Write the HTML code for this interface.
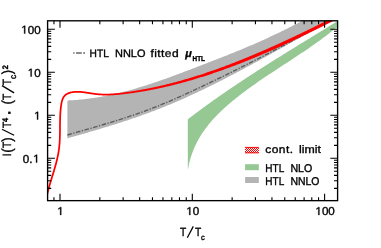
<!DOCTYPE html><html><head><meta charset="utf-8"><style>html,body{margin:0;padding:0;background:#fff}svg{display:block;filter:opacity(0.999)}text{font-family:"Liberation Sans",sans-serif;text-rendering:geometricPrecision;fill:#000;stroke:#000;stroke-width:0.36}</style></head><body>
<svg width="381" height="248" viewBox="0 0 381 248">
<rect width="381" height="248" fill="#fff"/>
<defs><pattern id="h" width="2" height="2" x="245" y="147" patternUnits="userSpaceOnUse"><rect width="2" height="2" fill="#fff"/><rect width="1" height="1" fill="#f00"/><rect x="1" y="1" width="1" height="1" fill="#f00"/></pattern>
<clipPath id="c"><rect x="47.6" y="20.8" width="290.0" height="179.85"/></clipPath></defs>
<g clip-path="url(#c)">
<polygon points="187.80,119.80 188.48,118.80 189.37,118.11 190.26,117.43 191.16,116.75 192.05,116.07 192.95,115.39 193.85,114.71 194.74,114.03 195.64,113.36 196.54,112.68 197.44,112.01 198.34,111.34 199.25,110.67 200.15,110.00 201.06,109.33 201.96,108.66 202.87,108.00 203.78,107.34 204.68,106.67 205.59,106.01 206.50,105.35 207.42,104.69 208.33,104.03 209.24,103.38 210.16,102.72 211.07,102.07 211.99,101.41 212.90,100.76 213.82,100.11 214.74,99.46 215.66,98.81 216.58,98.16 217.50,97.52 218.42,96.87 219.34,96.22 220.27,95.58 221.19,94.94 222.12,94.30 223.04,93.66 223.97,93.02 224.90,92.38 225.82,91.74 226.75,91.10 227.68,90.47 228.61,89.83 229.54,89.20 230.47,88.57 231.41,87.94 232.34,87.31 233.27,86.68 234.21,86.05 235.14,85.42 236.08,84.79 237.02,84.17 237.95,83.54 238.89,82.92 239.83,82.29 240.77,81.67 241.71,81.05 242.65,80.43 243.59,79.81 244.53,79.19 245.47,78.57 246.41,77.95 247.36,77.33 248.30,76.71 249.24,76.10 250.19,75.48 251.13,74.87 252.08,74.26 253.02,73.64 253.97,73.03 254.92,72.42 255.87,71.81 256.81,71.20 257.76,70.59 258.71,69.98 259.66,69.37 260.61,68.76 261.56,68.16 262.51,67.55 263.46,66.95 264.41,66.34 265.37,65.74 266.32,65.13 267.27,64.53 268.22,63.92 269.18,63.32 270.13,62.72 271.08,62.12 272.04,61.52 272.99,60.92 273.95,60.32 274.90,59.72 275.86,59.12 276.82,58.52 277.77,57.92 278.73,57.33 279.69,56.73 280.64,56.13 281.60,55.54 282.56,54.94 283.51,54.34 284.47,53.75 285.43,53.15 286.39,52.56 287.35,51.97 288.31,51.37 289.27,50.78 290.23,50.19 291.18,49.59 292.14,49.00 293.10,48.41 294.06,47.82 295.02,47.23 295.98,46.63 296.94,46.04 297.90,45.45 298.86,44.86 299.82,44.27 300.79,43.68 301.75,43.09 302.71,42.50 303.67,41.91 304.63,41.32 305.59,40.73 306.55,40.14 307.51,39.55 308.47,38.97 309.43,38.38 310.39,37.79 311.35,37.20 312.31,36.61 313.28,36.02 314.24,35.44 315.20,34.85 316.16,34.26 317.12,33.67 318.08,33.08 319.04,32.49 320.00,31.91 320.96,31.32 321.92,30.73 322.88,30.14 323.84,29.55 324.80,28.97 325.76,28.38 326.72,27.79 327.68,27.20 328.64,26.61 329.60,26.03 330.56,25.44 331.51,24.85 332.47,24.26 333.43,23.67 334.39,23.08 335.35,22.49 336.30,21.90 337.50,21.70 337.50,27.10 336.24,27.68 335.21,28.53 334.17,29.37 333.13,30.21 332.09,31.05 331.05,31.87 330.00,32.70 328.95,33.52 327.90,34.33 326.84,35.15 325.78,35.95 324.72,36.76 323.65,37.55 322.58,38.35 321.51,39.14 320.44,39.93 319.36,40.71 318.29,41.49 317.20,42.27 316.12,43.04 315.04,43.82 313.95,44.58 312.86,45.35 311.77,46.11 310.67,46.87 309.58,47.63 308.48,48.38 307.38,49.14 306.28,49.89 305.18,50.64 304.08,51.38 302.97,52.13 301.87,52.87 300.76,53.61 299.65,54.35 298.54,55.09 297.43,55.82 296.32,56.56 295.20,57.29 294.09,58.03 292.98,58.76 291.86,59.49 290.75,60.22 289.63,60.95 288.51,61.68 287.40,62.41 286.28,63.14 285.16,63.87 284.04,64.60 282.93,65.33 281.81,66.06 280.69,66.79 279.57,67.52 278.46,68.25 277.34,68.98 276.22,69.71 275.11,70.44 273.99,71.17 272.88,71.91 271.76,72.64 270.65,73.38 269.54,74.12 268.42,74.86 267.31,75.60 266.20,76.35 265.09,77.09 263.99,77.84 262.88,78.59 261.78,79.34 260.67,80.09 259.57,80.85 258.47,81.61 257.37,82.37 256.27,83.13 255.18,83.90 254.08,84.67 252.99,85.44 251.90,86.21 250.82,86.99 249.73,87.77 248.65,88.56 247.57,89.35 246.49,90.14 245.41,90.94 244.34,91.74 243.27,92.54 242.20,93.35 241.13,94.16 240.07,94.98 239.01,95.80 237.95,96.63 236.90,97.46 235.85,98.29 234.81,99.13 233.76,99.98 232.73,100.83 231.70,101.69 230.67,102.55 229.65,103.41 228.63,104.29 227.62,105.16 226.62,106.05 225.62,106.94 224.63,107.83 223.64,108.73 222.66,109.64 221.69,110.56 220.73,111.48 219.78,112.41 218.83,113.34 217.89,114.28 216.96,115.23 216.04,116.18 215.13,117.15 214.23,118.12 213.34,119.09 212.46,120.08 211.59,121.07 210.73,122.07 209.88,123.08 209.04,124.10 208.21,125.12 207.39,126.15 206.59,127.19 205.80,128.24 205.02,129.30 204.25,130.37 203.50,131.44 202.76,132.53 202.03,133.62 201.32,134.72 200.62,135.83 199.94,136.95 199.26,138.08 198.61,139.22 197.97,140.37 197.34,141.53 196.73,142.70 196.14,143.88 195.56,145.07 195.00,146.27 194.46,147.48 193.93,148.71 193.42,149.94 192.93,151.18 192.45,152.43 192.00,153.70 191.56,154.97 191.14,156.26 190.73,157.56 190.35,158.87 189.99,160.19 189.64,161.52 189.32,162.87 189.02,164.22 188.73,165.59 188.47,166.97 188.23,168.37 187.80,169.40" fill="#96c894"/>
<polygon points="67.40,100.70 69.16,100.33 71.03,100.24 72.89,100.14 74.75,100.02 76.60,99.89 78.45,99.74 80.30,99.58 82.14,99.41 83.99,99.22 85.82,99.01 87.66,98.79 89.49,98.56 91.31,98.31 93.14,98.05 94.96,97.78 96.78,97.49 98.59,97.20 100.40,96.89 102.21,96.56 104.02,96.23 105.82,95.88 107.62,95.52 109.42,95.15 111.21,94.77 113.00,94.38 114.79,93.98 116.58,93.57 118.37,93.14 120.15,92.71 121.93,92.27 123.70,91.81 125.48,91.35 127.25,90.88 129.02,90.40 130.79,89.91 132.56,89.41 134.32,88.91 136.08,88.40 137.84,87.87 139.60,87.34 141.36,86.81 143.11,86.26 144.86,85.71 146.61,85.15 148.36,84.59 150.11,84.02 151.86,83.44 153.60,82.86 155.34,82.27 157.09,81.68 158.83,81.08 160.56,80.47 162.30,79.87 164.04,79.25 165.77,78.63 167.51,78.01 169.24,77.38 170.97,76.75 172.70,76.12 174.43,75.48 176.16,74.84 177.88,74.20 179.61,73.56 181.34,72.91 183.06,72.26 184.79,71.61 186.51,70.95 188.23,70.30 189.96,69.64 191.68,68.98 193.40,68.32 195.12,67.66 196.84,67.00 198.56,66.34 200.28,65.68 202.00,65.02 203.72,64.36 205.44,63.70 207.16,63.04 208.88,62.37 210.60,61.71 212.31,61.04 214.03,60.37 215.74,59.70 217.46,59.03 219.17,58.36 220.88,57.69 222.60,57.01 224.31,56.33 226.02,55.65 227.72,54.97 229.43,54.29 231.14,53.60 232.84,52.91 234.55,52.22 236.25,51.53 237.95,50.83 239.65,50.13 241.35,49.42 243.05,48.72 244.74,48.01 246.43,47.29 248.13,46.57 249.82,45.85 251.51,45.13 253.19,44.40 254.88,43.67 256.56,42.93 258.24,42.19 259.92,41.44 261.60,40.69 263.28,39.94 264.95,39.18 266.62,38.41 268.29,37.64 269.96,36.87 271.63,36.09 273.29,35.31 274.95,34.52 276.61,33.73 278.27,32.94 279.93,32.14 281.58,31.33 283.23,30.53 284.88,29.71 286.53,28.90 288.18,28.08 289.82,27.25 291.47,26.43 293.11,25.59 294.75,24.76 296.38,23.92 298.02,23.07 299.65,22.23 301.29,21.37 302.92,20.52 304.55,19.66 306.17,18.80 307.80,17.93 309.42,17.06 311.04,16.19 312.66,15.31 314.28,14.43 315.90,13.55 317.52,12.66 319.13,11.77 320.74,10.88 322.35,9.98 323.96,9.08 325.57,8.17 327.17,7.27 328.78,6.36 330.38,5.44 331.98,4.53 333.58,3.61 335.17,2.68 336.77,1.76 338.36,0.83 340.00,0.00 340.00,15.50 338.35,16.44 336.69,17.34 335.03,18.23 333.36,19.13 331.70,20.03 330.04,20.93 328.39,21.84 326.73,22.74 325.07,23.65 323.42,24.56 321.77,25.47 320.11,26.38 318.46,27.30 316.81,28.21 315.16,29.13 313.51,30.04 311.86,30.96 310.22,31.88 308.57,32.80 306.92,33.72 305.28,34.64 303.63,35.56 301.99,36.48 300.34,37.41 298.70,38.33 297.05,39.25 295.41,40.18 293.76,41.10 292.12,42.02 290.48,42.95 288.83,43.87 287.19,44.79 285.54,45.72 283.90,46.64 282.26,47.56 280.61,48.48 278.97,49.41 277.32,50.33 275.67,51.25 274.03,52.17 272.38,53.08 270.73,54.00 269.08,54.92 267.43,55.83 265.78,56.75 264.13,57.66 262.48,58.57 260.83,59.48 259.18,60.39 257.52,61.30 255.87,62.20 254.21,63.11 252.55,64.01 250.89,64.91 249.23,65.81 247.57,66.71 245.91,67.60 244.25,68.50 242.59,69.39 240.92,70.28 239.25,71.16 237.59,72.05 235.92,72.93 234.25,73.81 232.58,74.69 230.90,75.57 229.23,76.44 227.55,77.31 225.88,78.18 224.20,79.04 222.52,79.90 220.83,80.76 219.15,81.62 217.47,82.47 215.78,83.32 214.09,84.16 212.40,85.00 210.71,85.84 209.01,86.67 207.32,87.50 205.62,88.33 203.92,89.15 202.22,89.97 200.52,90.78 198.81,91.59 197.10,92.40 195.39,93.20 193.68,94.00 191.97,94.79 190.26,95.57 188.54,96.36 186.82,97.13 185.10,97.91 183.37,98.67 181.65,99.44 179.92,100.19 178.19,100.95 176.46,101.69 174.72,102.44 172.99,103.17 171.25,103.91 169.51,104.63 167.77,105.35 166.02,106.07 164.27,106.78 162.52,107.49 160.77,108.19 159.02,108.88 157.26,109.57 155.50,110.25 153.74,110.93 151.98,111.60 150.21,112.26 148.45,112.92 146.68,113.58 144.90,114.23 143.13,114.87 141.35,115.50 139.58,116.14 137.79,116.76 136.01,117.38 134.23,118.00 132.44,118.61 130.65,119.22 128.86,119.82 127.07,120.42 125.28,121.01 123.49,121.60 121.69,122.18 119.89,122.76 118.09,123.34 116.29,123.91 114.49,124.48 112.69,125.05 110.89,125.61 109.08,126.17 107.27,126.72 105.47,127.28 103.66,127.83 101.85,128.37 100.04,128.92 98.23,129.46 96.42,129.99 94.60,130.53 92.79,131.06 90.98,131.59 89.16,132.12 87.35,132.65 85.53,133.18 83.72,133.70 81.90,134.22 80.09,134.74 78.27,135.26 76.45,135.78 74.64,136.30 72.82,136.81 71.00,137.33 69.19,137.84 67.40,138.44" fill="#b4b4b4"/>
<polyline points="67.40,134.98 69.80,134.27 72.21,133.58 74.63,132.88 77.04,132.19 79.45,131.50 81.87,130.81 84.28,130.11 86.70,129.42 89.11,128.72 91.53,128.03 93.94,127.33 96.36,126.62 98.77,125.92 101.18,125.21 103.59,124.49 106.00,123.77 108.41,123.05 110.82,122.32 113.22,121.58 115.62,120.84 118.02,120.09 120.42,119.34 122.81,118.57 125.20,117.80 127.59,117.02 129.97,116.23 132.35,115.43 134.73,114.62 137.10,113.80 139.47,112.97 141.84,112.13 144.20,111.28 146.55,110.41 148.90,109.53 151.25,108.64 153.58,107.73 155.92,106.82 158.25,105.89 160.57,104.95 162.89,103.99 165.21,103.03 167.52,102.06 169.83,101.08 172.13,100.08 174.43,99.08 176.73,98.07 179.02,97.06 181.31,96.03 183.60,95.00 185.89,93.96 188.17,92.92 190.45,91.87 192.73,90.81 195.01,89.75 197.28,88.69 199.55,87.62 201.82,86.55 204.09,85.48 206.36,84.40 208.63,83.32 210.89,82.23 213.15,81.14 215.42,80.05 217.68,78.96 219.93,77.86 222.19,76.76 224.45,75.65 226.70,74.54 228.95,73.43 231.20,72.32 233.45,71.20 235.70,70.08 237.94,68.96 240.19,67.83 242.43,66.70 244.67,65.57 246.91,64.44 249.15,63.30 251.39,62.16 253.62,61.02 255.86,59.88 258.09,58.73 260.32,57.58 262.55,56.43 264.78,55.28 267.00,54.12 269.23,52.96 271.45,51.80 273.68,50.64 275.90,49.47 278.12,48.31 280.33,47.14 282.55,45.97 284.77,44.80 286.98,43.62 289.20,42.45 291.41,41.27 293.62,40.09 295.83,38.91 298.04,37.72 300.25,36.54 302.46,35.35 304.67,34.16 306.88,32.98 309.09,31.78 311.30,30.59 313.51,29.40 315.72,28.21 317.92,27.01 320.13,25.81 322.34,24.62 324.55,23.42 326.75,22.22 328.96,21.02 331.17,19.82 333.38,18.62 335.59,17.41 337.80,16.21 340.00,15.00" fill="none" stroke="#5c5c5c" stroke-width="1.35" stroke-dasharray="4.6 1.5 1.3 1.5"/>
<polygon points="47.48,197.18 47.65,196.41 47.81,195.63 47.99,194.86 48.16,194.09 48.35,193.31 48.53,192.54 48.72,191.77 48.92,191.00 49.12,190.22 49.32,189.45 49.53,188.68 49.74,187.91 49.96,187.14 50.18,186.37 50.40,185.59 50.62,184.82 50.84,184.05 51.07,183.28 51.30,182.51 51.53,181.73 51.76,180.96 52.00,180.19 52.23,179.42 52.47,178.64 52.70,177.87 52.94,177.10 53.18,176.32 53.41,175.55 53.65,174.77 53.89,174.00 54.12,173.22 54.36,172.45 54.59,171.67 54.82,170.90 55.05,170.12 55.28,169.34 55.51,168.56 55.73,167.78 55.96,167.00 56.18,166.22 56.39,165.44 56.61,164.66 56.82,163.88 57.03,163.09 57.23,162.31 57.43,161.52 57.62,160.74 57.81,159.95 58.00,159.16 58.18,158.37 58.36,157.58 58.53,156.79 58.69,156.00 58.85,155.20 59.01,154.41 59.16,153.61 59.30,152.82 59.43,152.02 59.56,151.22 59.68,150.42 59.79,149.62 59.90,148.81 60.00,148.01 60.09,147.20 60.17,146.40 60.25,145.59 60.32,144.79 60.39,143.98 60.45,143.17 60.50,142.36 60.55,141.55 60.59,140.74 60.63,139.93 60.66,139.12 60.70,138.31 60.72,137.50 60.75,136.69 60.77,135.88 60.78,135.07 60.80,134.25 60.81,133.44 60.82,132.63 60.83,131.82 60.84,131.01 60.84,130.19 60.85,129.38 60.85,128.57 60.86,127.76 60.86,126.94 60.87,126.13 60.87,125.32 60.88,124.51 60.89,123.70 60.90,122.89 60.91,122.08 60.92,121.27 60.93,120.46 60.95,119.65 60.97,118.84 61.00,118.03 61.02,117.23 61.06,116.42 61.09,115.61 61.13,114.81 61.17,114.00 61.22,113.20 61.28,112.40 61.34,111.59 61.40,110.79 61.47,109.99 61.55,109.19 61.63,108.39 61.73,107.60 61.82,106.80 61.93,106.00 62.04,105.21 62.16,104.42 62.30,103.64 62.44,102.87 62.61,102.11 62.79,101.37 62.99,100.66 63.21,99.96 63.46,99.29 63.74,98.65 64.05,98.05 64.38,97.47 64.75,96.94 65.16,96.44 65.60,95.98 66.08,95.55 66.61,95.16 67.19,94.80 67.80,94.47 68.44,94.18 69.12,93.91 69.82,93.67 70.55,93.46 71.29,93.28 72.04,93.12 72.80,92.99 73.57,92.89 74.34,92.80 75.12,92.74 75.91,92.70 76.70,92.68 77.50,92.68 78.30,92.70 79.11,92.73 79.92,92.78 80.74,92.84 81.56,92.91 82.39,93.00 83.22,93.09 84.05,93.20 84.88,93.31 85.72,93.43 86.56,93.55 87.40,93.68 88.24,93.81 89.08,93.95 89.93,94.08 90.77,94.21 91.62,94.34 92.46,94.47 93.31,94.59 94.15,94.71 95.00,94.82 95.84,94.92 96.68,95.01 97.52,95.09 98.35,95.16 99.18,95.23 100.01,95.28 100.84,95.33 101.67,95.37 102.49,95.40 103.31,95.43 104.13,95.45 104.95,95.46 105.76,95.46 106.58,95.45 107.39,95.44 108.20,95.43 109.00,95.41 109.81,95.38 110.62,95.34 111.42,95.30 112.22,95.26 113.02,95.21 113.82,95.16 114.62,95.10 115.42,95.04 116.21,94.97 117.01,94.90 117.80,94.82 118.59,94.75 119.39,94.67 120.18,94.58 120.97,94.50 121.76,94.42 122.55,94.33 123.34,94.24 124.13,94.15 124.92,94.06 125.71,93.96 126.50,93.86 127.29,93.77 128.08,93.67 128.87,93.56 129.65,93.46 130.44,93.36 131.23,93.25 132.02,93.14 132.81,93.03 133.60,92.92 134.38,92.80 135.17,92.69 135.96,92.57 136.75,92.45 137.53,92.33 138.32,92.21 139.11,92.08 139.89,91.95 140.68,91.83 141.47,91.70 142.25,91.57 143.04,91.43 143.83,91.30 144.61,91.16 145.40,91.02 146.18,90.88 146.97,90.74 147.75,90.60 148.54,90.45 149.32,90.31 150.11,90.16 150.89,90.01 151.68,89.86 152.46,89.71 153.24,89.55 154.03,89.40 154.81,89.24 155.60,89.08 156.38,88.92 157.16,88.76 157.94,88.59 158.73,88.43 159.51,88.26 160.29,88.09 161.07,87.92 161.86,87.75 162.64,87.58 163.42,87.40 164.20,87.23 164.98,87.05 165.76,86.87 166.54,86.69 167.32,86.51 168.10,86.32 168.88,86.14 169.66,85.95 170.44,85.77 171.22,85.58 172.00,85.39 172.78,85.19 173.56,85.00 174.34,84.80 175.12,84.61 175.90,84.41 176.67,84.21 177.45,84.01 178.23,83.81 179.01,83.60 179.78,83.40 180.56,83.19 181.34,82.99 182.11,82.78 182.89,82.57 183.67,82.35 184.44,82.14 185.22,81.93 185.99,81.71 186.77,81.49 187.54,81.27 188.32,81.05 189.09,80.83 189.87,80.61 190.64,80.39 191.41,80.16 192.19,79.94 192.96,79.71 193.73,79.48 194.50,79.25 195.28,79.02 196.05,78.78 196.82,78.55 197.59,78.32 198.36,78.08 199.13,77.84 199.91,77.60 200.68,77.36 201.45,77.12 202.22,76.88 202.99,76.64 203.76,76.39 204.52,76.15 205.29,75.90 206.06,75.65 206.83,75.40 207.60,75.15 208.37,74.90 209.13,74.65 209.90,74.39 210.67,74.14 211.44,73.88 212.20,73.63 212.97,73.37 213.73,73.11 214.50,72.85 215.27,72.59 216.03,72.32 216.80,72.06 217.56,71.80 218.32,71.53 219.09,71.26 219.85,71.00 220.62,70.73 221.38,70.46 222.14,70.19 222.90,69.91 223.67,69.64 224.43,69.37 225.19,69.09 225.95,68.82 226.71,68.54 227.47,68.26 228.23,67.98 228.99,67.70 229.75,67.42 230.51,67.14 231.27,66.86 232.03,66.58 232.79,66.29 233.55,66.01 234.30,65.72 235.06,65.43 235.82,65.15 236.58,64.86 237.33,64.57 238.09,64.28 238.84,63.98 239.60,63.69 240.36,63.40 241.11,63.10 241.86,62.81 242.62,62.51 243.37,62.21 244.12,61.91 244.88,61.61 245.63,61.31 246.38,61.01 247.13,60.70 247.88,60.40 248.63,60.10 249.38,59.79 250.13,59.49 250.88,59.18 251.63,58.87 252.38,58.56 253.13,58.26 253.88,57.95 254.63,57.64 255.38,57.33 256.12,57.01 256.87,56.70 257.62,56.39 258.36,56.07 259.11,55.76 259.85,55.44 260.60,55.13 261.34,54.81 262.09,54.49 262.83,54.18 263.58,53.86 264.32,53.54 265.06,53.22 265.80,52.90 266.55,52.58 267.29,52.26 268.03,51.93 268.77,51.61 269.51,51.29 270.25,50.96 270.99,50.64 271.73,50.31 272.47,49.99 273.21,49.66 273.95,49.33 274.69,49.01 275.42,48.68 276.16,48.35 276.90,48.02 277.63,47.69 278.37,47.36 279.11,47.03 279.84,46.70 280.58,46.37 281.31,46.03 282.04,45.70 282.78,45.37 283.51,45.03 284.24,44.70 284.98,44.36 285.71,44.03 286.44,43.69 287.17,43.35 287.90,43.01 288.63,42.68 289.36,42.34 290.09,42.00 290.81,41.66 291.54,41.32 292.27,40.97 293.00,40.63 293.72,40.29 294.45,39.95 295.17,39.61 295.90,39.26 296.62,38.92 297.35,38.58 298.07,38.23 298.80,37.89 299.52,37.54 300.24,37.20 300.96,36.85 301.69,36.51 302.41,36.16 303.13,35.82 303.85,35.47 304.57,35.12 305.29,34.77 306.01,34.43 306.73,34.08 307.44,33.73 308.16,33.38 308.88,33.04 309.60,32.69 310.31,32.34 311.03,31.99 311.74,31.64 312.46,31.29 313.17,30.94 313.89,30.59 314.60,30.24 315.32,29.89 316.03,29.54 316.74,29.19 317.45,28.84 318.16,28.49 318.88,28.13 319.59,27.78 320.30,27.43 321.01,27.08 321.71,26.73 322.42,26.38 323.13,26.02 323.84,25.67 324.55,25.32 325.25,24.97 325.96,24.62 326.66,24.26 327.37,23.91 328.07,23.56 328.78,23.20 329.48,22.85 330.19,22.50 330.89,22.15 331.59,21.79 332.29,21.44 332.99,21.09 333.70,20.73 334.40,20.38 335.10,20.03 335.80,19.67 336.49,19.32 337.19,18.97 337.89,18.62 338.59,18.26 339.29,17.91 339.98,17.56 340.68,17.20 341.37,16.85 342.07,16.50 342.76,16.15 343.46,15.80 344.15,15.44 344.84,15.09 345.54,14.74 344.13,11.98 343.44,12.33 342.75,12.68 342.05,13.03 341.36,13.38 340.67,13.73 339.97,14.09 339.28,14.44 338.58,14.79 337.89,15.14 337.19,15.49 336.49,15.84 335.79,16.20 335.09,16.55 334.40,16.90 333.70,17.25 333.00,17.60 332.30,17.95 331.60,18.30 330.90,18.66 330.19,19.01 329.49,19.36 328.79,19.71 328.09,20.06 327.38,20.41 326.68,20.76 325.97,21.11 325.27,21.47 324.56,21.82 323.86,22.17 323.15,22.52 322.45,22.87 321.74,23.22 321.03,23.57 320.32,23.92 319.61,24.27 318.91,24.62 318.20,24.97 317.49,25.32 316.78,25.67 316.07,26.02 315.35,26.37 314.64,26.72 313.93,27.06 313.22,27.41 312.50,27.76 311.79,28.11 311.08,28.46 310.36,28.81 309.65,29.15 308.93,29.50 308.22,29.85 307.50,30.19 306.79,30.54 306.07,30.89 305.35,31.23 304.63,31.58 303.92,31.92 303.20,32.27 302.48,32.61 301.76,32.96 301.04,33.30 300.32,33.65 299.60,33.99 298.88,34.33 298.16,34.68 297.43,35.02 296.71,35.36 295.99,35.70 295.26,36.05 294.54,36.39 293.82,36.73 293.09,37.07 292.37,37.41 291.64,37.75 290.92,38.09 290.19,38.43 289.47,38.77 288.74,39.10 288.01,39.44 287.28,39.78 286.56,40.12 285.83,40.45 285.10,40.79 284.37,41.12 283.64,41.46 282.91,41.80 282.18,42.13 281.45,42.47 280.72,42.80 279.99,43.14 279.26,43.47 278.53,43.81 277.80,44.14 277.07,44.47 276.33,44.81 275.60,45.14 274.87,45.47 274.13,45.80 273.40,46.13 272.67,46.46 271.93,46.79 271.20,47.12 270.46,47.44 269.73,47.77 268.99,48.10 268.25,48.42 267.52,48.75 266.78,49.07 266.04,49.40 265.30,49.72 264.56,50.04 263.83,50.37 263.09,50.69 262.35,51.01 261.61,51.33 260.87,51.65 260.13,51.97 259.39,52.29 258.65,52.61 257.90,52.92 257.16,53.24 256.42,53.55 255.68,53.87 254.93,54.18 254.19,54.50 253.45,54.81 252.70,55.12 251.96,55.43 251.21,55.74 250.47,56.05 249.72,56.36 248.98,56.67 248.23,56.98 247.49,57.29 246.74,57.59 245.99,57.90 245.25,58.20 244.50,58.51 243.75,58.81 243.00,59.11 242.25,59.41 241.50,59.71 240.76,60.01 240.01,60.31 239.26,60.61 238.51,60.91 237.76,61.21 237.01,61.50 236.26,61.80 235.51,62.10 234.75,62.39 234.00,62.68 233.25,62.98 232.50,63.27 231.75,63.56 231.00,63.85 230.24,64.14 229.49,64.43 228.74,64.72 227.98,65.00 227.23,65.29 226.47,65.57 225.72,65.86 224.96,66.14 224.21,66.42 223.45,66.70 222.70,66.98 221.94,67.26 221.18,67.54 220.43,67.81 219.67,68.09 218.91,68.36 218.16,68.64 217.40,68.91 216.64,69.18 215.88,69.45 215.12,69.72 214.36,69.99 213.60,70.26 212.84,70.52 212.08,70.79 211.32,71.05 210.56,71.32 209.80,71.58 209.04,71.84 208.28,72.10 207.52,72.36 206.76,72.62 206.00,72.87 205.23,73.13 204.47,73.38 203.71,73.63 202.94,73.89 202.18,74.14 201.42,74.39 200.65,74.64 199.89,74.88 199.12,75.13 198.36,75.37 197.59,75.62 196.83,75.86 196.06,76.10 195.30,76.34 194.53,76.58 193.77,76.82 193.00,77.05 192.23,77.29 191.47,77.52 190.70,77.75 189.93,77.99 189.16,78.22 188.39,78.44 187.63,78.67 186.86,78.90 186.09,79.12 185.32,79.35 184.55,79.57 183.78,79.79 183.01,80.01 182.24,80.23 181.47,80.45 180.70,80.66 179.93,80.88 179.16,81.09 178.39,81.30 177.62,81.51 176.85,81.72 176.07,81.93 175.30,82.13 174.53,82.34 173.76,82.54 172.99,82.75 172.21,82.95 171.44,83.15 170.67,83.34 169.89,83.54 169.12,83.74 168.35,83.93 167.57,84.12 166.80,84.31 166.02,84.50 165.25,84.69 164.47,84.88 163.70,85.06 162.92,85.24 162.15,85.43 161.37,85.61 160.60,85.79 159.82,85.96 159.04,86.14 158.27,86.31 157.49,86.49 156.71,86.66 155.94,86.83 155.16,87.00 154.38,87.16 153.60,87.33 152.82,87.49 152.05,87.65 151.27,87.81 150.49,87.97 149.71,88.13 148.93,88.28 148.15,88.44 147.37,88.59 146.59,88.74 145.81,88.89 145.03,89.04 144.25,89.18 143.47,89.33 142.69,89.47 141.91,89.61 141.13,89.75 140.35,89.89 139.57,90.02 138.79,90.16 138.01,90.29 137.23,90.42 136.45,90.55 135.66,90.68 134.88,90.80 134.10,90.93 133.32,91.05 132.53,91.17 131.75,91.29 130.97,91.41 130.19,91.52 129.40,91.63 128.62,91.75 127.84,91.86 127.05,91.96 126.27,92.07 125.48,92.17 124.70,92.28 123.92,92.38 123.13,92.48 122.35,92.57 121.56,92.67 120.78,92.76 119.99,92.85 119.21,92.93 118.42,93.01 117.64,93.09 116.85,93.16 116.06,93.23 115.28,93.30 114.49,93.36 113.70,93.42 112.91,93.47 112.12,93.52 111.33,93.57 110.54,93.60 109.74,93.64 108.95,93.67 108.15,93.69 107.36,93.70 106.56,93.71 105.76,93.72 104.96,93.72 104.16,93.71 103.35,93.69 102.55,93.67 101.74,93.63 100.93,93.59 100.12,93.55 99.31,93.49 98.49,93.43 97.68,93.36 96.86,93.28 96.03,93.19 95.21,93.09 94.38,92.98 93.55,92.87 92.72,92.75 91.88,92.62 91.04,92.49 90.20,92.36 89.36,92.23 88.51,92.09 87.67,91.96 86.82,91.83 85.97,91.71 85.12,91.59 84.27,91.47 83.43,91.37 82.58,91.27 81.73,91.18 80.88,91.10 80.04,91.04 79.20,90.99 78.35,90.96 77.51,90.94 76.68,90.94 75.84,90.96 75.01,91.01 74.18,91.07 73.36,91.16 72.53,91.27 71.72,91.41 70.90,91.58 70.10,91.78 69.30,92.01 68.52,92.28 67.76,92.58 67.02,92.92 66.31,93.30 65.64,93.72 65.00,94.20 64.40,94.72 63.85,95.29 63.36,95.90 62.91,96.54 62.52,97.22 62.16,97.92 61.85,98.64 61.57,99.39 61.32,100.15 61.10,100.93 60.91,101.72 60.74,102.53 60.58,103.33 60.45,104.14 60.32,104.96 60.21,105.77 60.10,106.58 60.00,107.39 59.91,108.21 59.82,109.02 59.74,109.83 59.67,110.65 59.60,111.46 59.54,112.27 59.49,113.09 59.44,113.90 59.39,114.72 59.35,115.53 59.32,116.35 59.29,117.16 59.26,117.98 59.23,118.79 59.21,119.61 59.19,120.42 59.18,121.24 59.17,122.05 59.16,122.87 59.15,123.68 59.14,124.50 59.13,125.31 59.13,126.12 59.12,126.93 59.12,127.75 59.11,128.56 59.11,129.37 59.10,130.18 59.10,130.99 59.09,131.80 59.08,132.61 59.07,133.42 59.06,134.22 59.04,135.03 59.03,135.84 59.01,136.64 58.98,137.45 58.96,138.25 58.93,139.05 58.89,139.85 58.85,140.65 58.81,141.45 58.76,142.25 58.71,143.05 58.65,143.84 58.59,144.64 58.52,145.43 58.44,146.22 58.36,147.02 58.27,147.81 58.17,148.59 58.07,149.38 57.96,150.17 57.84,150.95 57.71,151.74 57.58,152.52 57.44,153.30 57.30,154.09 57.15,154.87 56.99,155.65 56.83,156.43 56.66,157.21 56.48,157.99 56.31,158.77 56.12,159.54 55.93,160.32 55.74,161.10 55.54,161.88 55.34,162.65 55.14,163.43 54.93,164.20 54.72,164.98 54.50,165.75 54.28,166.53 54.06,167.30 53.84,168.08 53.61,168.85 53.39,169.62 53.16,170.40 52.92,171.17 52.69,171.95 52.46,172.72 52.22,173.49 51.99,174.27 51.75,175.04 51.51,175.81 51.28,176.59 51.04,177.36 50.80,178.14 50.57,178.91 50.33,179.68 50.10,180.46 49.86,181.23 49.63,182.01 49.40,182.78 49.17,183.56 48.95,184.34 48.72,185.11 48.50,185.89 48.28,186.67 48.07,187.45 47.85,188.22 47.64,189.00 47.44,189.78 47.24,190.56 47.04,191.35 46.84,192.13 46.65,192.91 46.47,193.69 46.29,194.48 46.11,195.26 45.94,196.05 45.78,196.83" fill="#f00"/>
</g>
<rect x="47.6" y="20.8" width="290.0" height="179.85" fill="none" stroke="#000" stroke-width="1.35"/>
<path d="M53.95,200.65v-3.5M53.95,20.8v3.5M60.00,200.65v-7M60.00,20.8v7M99.83,200.65v-3.5M99.83,20.8v3.5M123.12,200.65v-3.5M123.12,20.8v3.5M139.65,200.65v-3.5M139.65,20.8v3.5M152.47,200.65v-3.5M152.47,20.8v3.5M162.95,200.65v-3.5M162.95,20.8v3.5M171.81,200.65v-3.5M171.81,20.8v3.5M179.48,200.65v-3.5M179.48,20.8v3.5M186.25,200.65v-3.5M186.25,20.8v3.5M192.30,200.65v-7M192.30,20.8v7M232.13,200.65v-3.5M232.13,20.8v3.5M255.42,200.65v-3.5M255.42,20.8v3.5M271.95,200.65v-3.5M271.95,20.8v3.5M284.77,200.65v-3.5M284.77,20.8v3.5M295.25,200.65v-3.5M295.25,20.8v3.5M304.11,200.65v-3.5M304.11,20.8v3.5M311.78,200.65v-3.5M311.78,20.8v3.5M318.55,200.65v-3.5M318.55,20.8v3.5M324.60,200.65v-7M324.60,20.8v7M47.6,188.36h3.6M337.6,188.36h-3.6M47.6,180.78h3.6M337.6,180.78h-3.6M47.6,175.41h3.6M337.6,175.41h-3.6M47.6,171.24h3.6M337.6,171.24h-3.6M47.6,167.84h3.6M337.6,167.84h-3.6M47.6,164.96h3.6M337.6,164.96h-3.6M47.6,162.47h3.6M337.6,162.47h-3.6M47.6,160.27h3.6M337.6,160.27h-3.6M47.6,158.30h7.3M337.6,158.30h-7.3M47.6,145.36h3.6M337.6,145.36h-3.6M47.6,137.78h3.6M337.6,137.78h-3.6M47.6,132.41h3.6M337.6,132.41h-3.6M47.6,128.24h3.6M337.6,128.24h-3.6M47.6,124.84h3.6M337.6,124.84h-3.6M47.6,121.96h3.6M337.6,121.96h-3.6M47.6,119.47h3.6M337.6,119.47h-3.6M47.6,117.27h3.6M337.6,117.27h-3.6M47.6,115.30h7.3M337.6,115.30h-7.3M47.6,102.36h3.6M337.6,102.36h-3.6M47.6,94.78h3.6M337.6,94.78h-3.6M47.6,89.41h3.6M337.6,89.41h-3.6M47.6,85.24h3.6M337.6,85.24h-3.6M47.6,81.84h3.6M337.6,81.84h-3.6M47.6,78.96h3.6M337.6,78.96h-3.6M47.6,76.47h3.6M337.6,76.47h-3.6M47.6,74.27h3.6M337.6,74.27h-3.6M47.6,72.30h7.3M337.6,72.30h-7.3M47.6,59.36h3.6M337.6,59.36h-3.6M47.6,51.78h3.6M337.6,51.78h-3.6M47.6,46.41h3.6M337.6,46.41h-3.6M47.6,42.24h3.6M337.6,42.24h-3.6M47.6,38.84h3.6M337.6,38.84h-3.6M47.6,35.96h3.6M337.6,35.96h-3.6M47.6,33.47h3.6M337.6,33.47h-3.6M47.6,31.27h3.6M337.6,31.27h-3.6M47.6,29.30h7.3M337.6,29.30h-7.3" stroke="#000" stroke-width="1.1" fill="none"/>
<path d="M24.17,33.60L24.17,26.79L22.37,28.08L22.37,27.12L24.25,25.82L25.19,25.82L25.19,33.60Z" fill="#000" stroke="#000" stroke-width="0.36" stroke-linejoin="miter"/>
<text x="27.70" y="33.8" font-size="11.6">0</text>
<text x="34.15" y="33.8" font-size="11.6">0</text>
<path d="M30.62,76.60L30.62,69.79L28.82,71.08L28.82,70.12L30.70,68.82L31.64,68.82L31.64,76.60Z" fill="#000" stroke="#000" stroke-width="0.36" stroke-linejoin="miter"/>
<text x="34.15" y="76.8" font-size="11.6">0</text>
<path d="M37.07,119.60L37.07,112.79L35.27,114.08L35.27,113.12L37.15,111.82L38.09,111.82L38.09,119.60Z" fill="#000" stroke="#000" stroke-width="0.36" stroke-linejoin="miter"/>
<text x="22.76" y="162.8" font-size="11.6">0</text>
<text x="29.21" y="162.8" font-size="11.6">.</text>
<path d="M36.07,162.60L36.07,155.79L34.27,157.08L34.27,156.12L36.15,154.82L37.09,154.82L37.09,162.60Z" fill="#000" stroke="#000" stroke-width="0.36" stroke-linejoin="miter"/>
<path d="M60.19,215.00L60.19,208.19L58.39,209.48L58.39,208.52L60.28,207.22L61.22,207.22L61.22,215.00Z" fill="#000" stroke="#000" stroke-width="0.36" stroke-linejoin="miter"/>
<path d="M189.27,215.00L189.27,208.19L187.47,209.48L187.47,208.52L189.35,207.22L190.29,207.22L190.29,215.00Z" fill="#000" stroke="#000" stroke-width="0.36" stroke-linejoin="miter"/>
<text x="192.80" y="215.2" font-size="11.6">0</text>
<path d="M318.34,215.00L318.34,208.19L316.54,209.48L316.54,208.52L318.43,207.22L319.37,207.22L319.37,215.00Z" fill="#000" stroke="#000" stroke-width="0.36" stroke-linejoin="miter"/>
<text x="321.88" y="215.2" font-size="11.6">0</text>
<text x="328.32" y="215.2" font-size="11.6">0</text>
<text transform="translate(183.2,235.8) scale(0.86,1)" font-size="11.9" text-anchor="middle" >T</text>
<text transform="translate(198,235.8) scale(0.86,1)" font-size="11.9" text-anchor="middle" >T</text>
<text transform="translate(202.8,239.8) scale(0.95,1)" font-size="8.0" text-anchor="middle" stroke-width="0.5">c</text>
<path d="M187.3,237.7L193.3,226.4" stroke="#000" stroke-width="1.25"/>
<text transform="translate(11.2,154.9) rotate(-90) scale(0.86,1)" font-size="11.9" text-anchor="middle" >I</text>
<text transform="translate(11.799999999999999,150.5) rotate(-90) scale(0.9,1)" font-size="14.5" text-anchor="middle" >(</text>
<text transform="translate(11.2,145) rotate(-90) scale(0.86,1)" font-size="11.9" text-anchor="middle" >T</text>
<text transform="translate(11.799999999999999,139.6) rotate(-90) scale(0.9,1)" font-size="14.5" text-anchor="middle" >)</text>
<path d="M14.1,135.3L2,129.3" stroke="#000" stroke-width="1.25"/>
<text transform="translate(11.2,125) rotate(-90) scale(0.86,1)" font-size="11.9" text-anchor="middle" >T</text>
<text transform="translate(7.6,120.0) rotate(-90) scale(0.9,1)" font-size="8" text-anchor="middle" font-weight="bold" stroke-width="0">4</text>
<text transform="translate(13.5,112.5) rotate(-90) scale(1,1)" font-size="14" text-anchor="middle" font-weight="bold">·</text>
<text transform="translate(11.799999999999999,102.2) rotate(-90) scale(0.9,1)" font-size="14.5" text-anchor="middle" >(</text>
<text transform="translate(11.2,96.8) rotate(-90) scale(0.86,1)" font-size="11.9" text-anchor="middle" >T</text>
<path d="M14.1,92.9L2,85.6" stroke="#000" stroke-width="1.25"/>
<text transform="translate(11.2,82.1) rotate(-90) scale(0.86,1)" font-size="11.9" text-anchor="middle" >T</text>
<text transform="translate(16.1,76.9) rotate(-90) scale(0.95,1)" font-size="8.8" text-anchor="middle" stroke-width="0.5">c</text>
<text transform="translate(11.799999999999999,72) rotate(-90) scale(0.9,1)" font-size="14.5" text-anchor="middle" >)</text>
<text transform="translate(8.1,67.2) rotate(-90) scale(0.9,1)" font-size="8" text-anchor="middle" font-weight="bold" stroke-width="0">2</text>
<path d="M73.2,53h11.8" stroke="#666" stroke-width="1.4" stroke-dasharray="1.3 1.5 5.8 1.5 1.7 2" fill="none"/>
<text transform="translate(89.6,56.9) scale(1,1)" font-size="10.8" text-anchor="start" textLength="19.3" lengthAdjust="spacingAndGlyphs" stroke-width="0.3">HTL</text>
<text transform="translate(115.0,56.9) scale(1,1)" font-size="10.8" text-anchor="start" textLength="30.4" lengthAdjust="spacingAndGlyphs" stroke-width="0.3">NNLO</text>
<text transform="translate(150.4,56.9) scale(1,0.9)" font-size="12" text-anchor="start" textLength="28.2" lengthAdjust="spacing" stroke-width="0.3">fitted</text>
<text transform="translate(185.2,56.9) scale(1,1)" font-size="10.8" text-anchor="start" font-style="italic" font-weight="bold" stroke-width="0.1">μ</text>
<text transform="translate(192.6,60.5) scale(1,1)" font-size="7.2" text-anchor="start" textLength="12.4" lengthAdjust="spacingAndGlyphs" font-weight="bold" stroke-width="0">HTL</text>
<rect x="245" y="147.0" width="13.9" height="6.2" fill="url(#h)"/>
<path d="M245,147.4h13.9M245,152.8h13.9" stroke="#f00" stroke-width="0.9" fill="none"/>
<rect x="245.1" y="164.2" width="13.7" height="6.0" fill="#96c894"/>
<rect x="245.1" y="177.0" width="13.7" height="6.0" fill="#b4b4b4"/>
<text transform="translate(265.2,153.3) scale(1,0.89)" font-size="12" text-anchor="start" textLength="28.0" lengthAdjust="spacing" stroke-width="0.3">cont.</text>
<text transform="translate(298.9,153.3) scale(1,0.91)" font-size="12" text-anchor="start" textLength="21.9" lengthAdjust="spacingAndGlyphs" stroke-width="0.3">limit</text>
<text transform="translate(265.3,171.7) scale(1,1)" font-size="11.3" text-anchor="start" textLength="18.9" lengthAdjust="spacingAndGlyphs" stroke-width="0.3">HTL</text>
<text transform="translate(290.4,171.7) scale(1,1)" font-size="11.3" text-anchor="start" textLength="21.9" lengthAdjust="spacingAndGlyphs" stroke-width="0.3">NLO</text>
<text transform="translate(265.3,184.6) scale(1,1)" font-size="11.3" text-anchor="start" textLength="18.9" lengthAdjust="spacingAndGlyphs" stroke-width="0.3">HTL</text>
<text transform="translate(290.4,184.6) scale(1,1)" font-size="11.3" text-anchor="start" textLength="29.1" lengthAdjust="spacingAndGlyphs" stroke-width="0.3">NNLO</text>
</svg></body></html>
